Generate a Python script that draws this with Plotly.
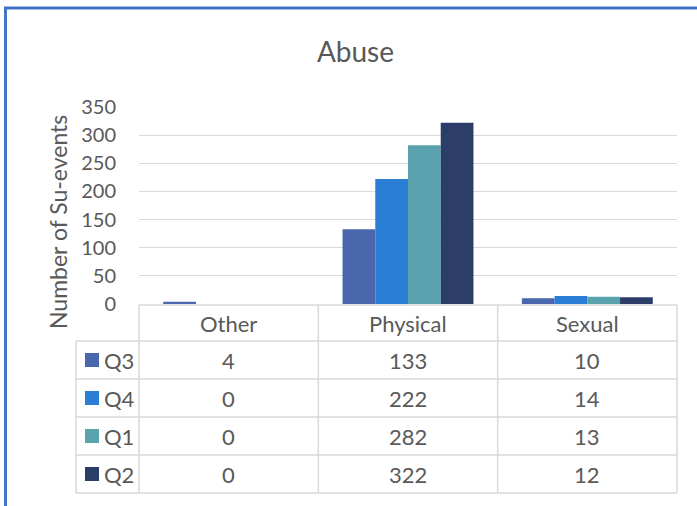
import plotly.graph_objects as go

categories = ["Other", "Physical", "Sexual"]
series_names = ["Q3", "Q4", "Q1", "Q2"]
q3_values = [4, 133, 10]
q4_values = [0, 222, 14]
q1_values = [0, 282, 13]
q2_values = [0, 322, 12]
series_values = [q3_values, q4_values, q1_values, q2_values]
series_colors = ["#4A66AC", "#2A7ED6", "#5AA2AE", "#2C3D69"]
y_ticks = [0, 50, 100, 150, 200, 250, 300, 350]

W, H = 697, 506
L, R, T, B = 139, 20, 107, 202
PW = W - L - R
PH = H - T - B
FONT = "Lato"
TXT = "#595959"
GRID = "#D9D9D9"


def px_x(px):
    return (px - L) / PW


def px_y(py):
    return (H - B - py) / PH


fig = go.Figure()
for name, vals, col in zip(series_names, series_values, series_colors):
    fig.add_trace(go.Bar(x=categories, y=vals, name=name, marker=dict(color=col, line=dict(width=0))))

shapes = []
ann = []

header_top, header_bot = 305, 341
row_h = 38
n_rows = len(series_names)
table_bot = header_bot + row_h * n_rows
legend_left = 76
ncat = len(categories)

line = dict(color=GRID, width=1.5)
shapes.append(dict(type="line", xref="paper", yref="paper", x0=0, x1=1,
                   y0=px_y(header_top), y1=px_y(header_top), line=line))
for r in range(n_rows + 1):
    yy = header_bot + r * row_h
    shapes.append(dict(type="line", xref="paper", yref="paper", x0=px_x(legend_left), x1=1,
                       y0=px_y(yy), y1=px_y(yy), line=line))
for k in range(ncat + 1):
    xx = k / ncat
    shapes.append(dict(type="line", xref="paper", yref="paper", x0=xx, x1=xx,
                       y0=px_y(header_top), y1=px_y(table_bot), line=line))
shapes.append(dict(type="line", xref="paper", yref="paper", x0=px_x(legend_left), x1=px_x(legend_left),
                   y0=px_y(header_bot), y1=px_y(table_bot), line=line))

tfont = dict(family=FONT, size=22, color=TXT)
for c in categories:
    ann.append(dict(x=c, xref="x", y=px_y((header_top + header_bot) / 2), yref="paper",
                    xanchor="center", yanchor="middle", text=c, showarrow=False, font=tfont))
for r, (name, vals, col) in enumerate(zip(series_names, series_values, series_colors)):
    yc = header_bot + r * row_h + row_h / 2
    for c, v in zip(categories, vals):
        ann.append(dict(x=c, xref="x", y=px_y(yc), yref="paper", xanchor="center", yanchor="middle",
                        text=str(v), showarrow=False, font=tfont))
    shapes.append(dict(type="rect", xref="paper", yref="paper", x0=px_x(85), x1=px_x(99),
                       y0=px_y(yc - 7), y1=px_y(yc + 7), fillcolor=col, line=dict(width=0)))
    ann.append(dict(x=px_x(102), xref="paper", xanchor="left", y=px_y(yc), yref="paper", yanchor="middle",
                    text=name, showarrow=False, font=tfont))

ann.append(dict(x=px_x(58), xref="paper", y=px_y(222), yref="paper", xanchor="center", yanchor="middle",
                text="Number of Su-events", textangle=-90, showarrow=False,
                font=dict(family=FONT, size=23, color=TXT)))

bcol = "#4472C4"
shapes.append(dict(type="line", xref="paper", yref="paper", x0=px_x(5.5), x1=px_x(5.5),
                   y0=px_y(8), y1=px_y(H + 5), line=dict(color=bcol, width=3)))
shapes.append(dict(type="line", xref="paper", yref="paper", x0=px_x(4), x1=px_x(W + 5),
                   y0=px_y(8), y1=px_y(8), line=dict(color=bcol, width=3)))

fig.update_layout(
    width=W, height=H,
    margin=dict(l=L, r=R, t=T, b=B),
    paper_bgcolor="white", plot_bgcolor="white",
    barmode="group", bargap=0.27, bargroupgap=0,
    showlegend=False,
    title=dict(text="Abuse", x=0.51, xanchor="center", y=1 - 52 / H, yanchor="middle",
               font=dict(family=FONT, size=28, color=TXT)),
    xaxis=dict(showticklabels=False, showgrid=False, zeroline=False, showline=False,
               range=[-0.5, ncat - 0.5]),
    yaxis=dict(range=[0, 350], tickvals=y_ticks, showgrid=True, gridcolor=GRID, gridwidth=1.3,
               zeroline=False, showline=False, ticks="", ticklabelstandoff=22,
               tickfont=dict(family=FONT, size=20, color=TXT)),
    shapes=shapes, annotations=ann,
    font=dict(family=FONT, color=TXT),
)

fig.write_html("out.html", config={"displayModeBar": False},
               post_script="document.body.style.margin='0';document.body.style.overflow='hidden';")
